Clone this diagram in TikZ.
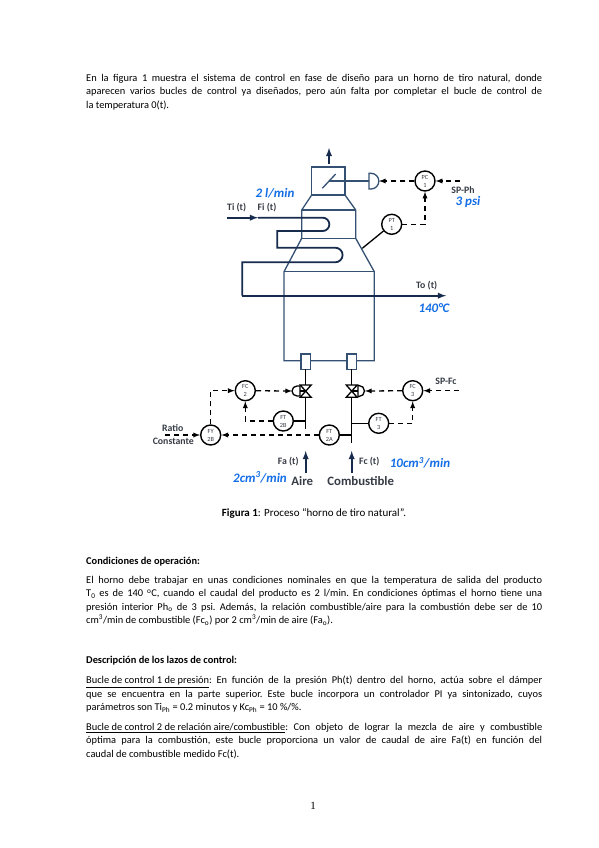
\documentclass[tikz,border=0pt]{standalone}
\usepackage{fontspec}
\setmainfont{Carlito}
\newfontfamily\pagefont{Liberation Serif}
\tikzset{
  para/.style={anchor=north west, inner sep=0pt, text width=456pt, align=justify, font=\frenchspacing\fontsize{10.4}{13.4}\selectfont},
  label/.style={inner sep=0pt, text=labelgray, font=\fontsize{9.8}{11}\selectfont\bfseries},
  hand/.style={inner sep=0pt, text=handblue, font=\fontsize{13}{14}\selectfont\bfseries\itshape},
  instr/.style={circle, draw=black, line width=1.4pt, fill=white, minimum size=20pt, inner sep=0pt, align=center, text=labelgray, font=\fontsize{6.3}{8}\selectfont},
  signal/.style={black, line width=1.3pt, dash pattern=on 5pt off 4pt, -latex},
  sensor/.style={black, line width=1.3pt},
  wall/.style={wallblue, line width=1.3pt},
  tube/.style={navy, line width=1.8pt}
}
\begin{document}
\begin{tikzpicture}[x=1pt, y=-1pt, line cap=butt, line join=miter]
  \definecolor{navy}{RGB}{23,43,77}
  \definecolor{wallblue}{RGB}{52,80,115}
  \definecolor{labelgray}{RGB}{55,60,70}
  \definecolor{handblue}{RGB}{20,110,230}
  \useasboundingbox (0,0) rectangle (599,848);
  \fill[white] (0,0) rectangle (599,848);
  % page text
  \node[para] (intro) at (86,74) {En la figura 1 muestra el sistema de control en fase de diseño para un horno de tiro natural, donde\linebreak aparecen varios bucles de control ya diseñados, pero aún falta por completar el bucle de control de\linebreak la temperatura 0(t).};
  \node[font=\fontsize{11}{12}\selectfont, inner sep=0pt] (caption) at (314,513.5) {\textbf{Figura 1}: Proceso “horno de tiro natural”.};
  \node[para] (headcond) at (86,556.5) {\textbf{Condiciones de operación:}};
  \node[para] (cond) at (86,576) {El horno debe trabajar en unas condiciones nominales en que la temperatura de salida del producto\linebreak T\textsubscript{0} es de 140 \textsuperscript{o}C, cuando el caudal del producto es 2 l/min. En condiciones óptimas el horno tiene una\linebreak presión interior Ph\textsubscript{o} de 3 psi. Además, la relación combustible/aire para la combustión debe ser de 10\linebreak cm\textsuperscript{3}/min de combustible (Fc\textsubscript{o}) por 2 cm\textsuperscript{3}/min de aire (Fa\textsubscript{o}).};
  \node[para] (headlazos) at (86,656) {\textbf{Descripción de los lazos de control:}};
  \node[para] (bucleuno) at (86,676) {\underline{Bucle de control 1 de presión}: En función de la presión Ph(t) dentro del horno, actúa sobre el dámper\linebreak que se encuentra en la parte superior. Este bucle incorpora un controlador PI ya sintonizado, cuyos\linebreak parámetros son Ti\textsubscript{Ph} = 0.2 minutos y  Kc\textsubscript{Ph} = 10 \%/\%.};
  \node[para] (bucledos) at (86,723) {\underline{Bucle de control 2 de relación aire/combustible}: Con objeto de lograr la mezcla de aire y combustible\linebreak óptima para la combustión, este bucle proporciona un valor de caudal de aire Fa(t) en función del\linebreak caudal de combustible medido Fc(t).};
  \node[font=\pagefont\fontsize{11}{12}\selectfont, inner sep=0pt] (pagenum) at (313,806) {1};
  % furnace
  \draw[wall] (311.7,167) rectangle (345,195);
  \draw[wall] (311.7,195)--(301.7,210)--(301.7,238.3)--(284,271.7)--(284,360.7)--(374.3,360.7)--(374.3,271.7)--(355.7,238.3)--(355.7,210)--(345,195);
  \draw[wall] (301.7,210)--(355.7,210);
  \draw[wall] (301.7,238.3)--(355.7,238.3);
  \draw[wall] (284,271.7)--(374.3,271.7);
  % coil
  \coordinate (coilin) at (227.3,217.7);
  \coordinate (coilout) at (446,295.7);
  \draw[tube, -latex] (coilin)--(258,217.7);
  \draw[tube] (258,217.7)--(322.7,217.7) arc (-90:90:6.65) -- (277.3,231)--(277.3,247.7)--(335.3,247.7) arc (-90:90:7.3) -- (242.3,262.3)--(242.3,295.7);
  \draw[tube, -latex] (242.3,295.7)--(coilout);
  % damper
  \coordinate (stack) at (329,164);
  \coordinate (exhaust) at (329,148);
  \draw[navy, line width=1.8pt, -latex] (stack)--(exhaust);
  \draw[wall] (322.3,188.3)--(335.7,174);
  \coordinate (dmpstem) at (329,181);
  \coordinate (dmpD) at (379,181);
  \draw[wall] (dmpstem)--(369,181);
  \draw[wall, fill=white] (369,173.3)--(371,173.3) arc (-90:90:7.85)--(369,189)--cycle;
  % burners and pipes
  \foreach \x in {305.7,351.7}{
    \draw[wall, fill=white] (\x-4.6,354)rectangle(\x+4.6,369.3);
    \draw[sensor, fill=white] (\x-5.5,385)--(\x+5.5,385)--(\x-5.5,397.3)--(\x+5.5,397.3)--cycle;
  }
  \coordinate (airtop) at (305.7,369.3);
  \coordinate (airend) at (305.7,429);
  \coordinate (fueltop) at (351.7,369.3);
  \coordinate (fuelend) at (351.7,442.7);
  \draw[sensor] (airtop)--(305.7,385) (305.7,397.3)--(airend);
  \draw[sensor] (fueltop)--(351.7,385) (351.7,397.3)--(fuelend);
  % valve actuators
  \coordinate (airD) at (292,391);
  \coordinate (fuelD) at (365,391);
  \draw[sensor] (300,391)--(305.7,391);
  \draw[sensor, fill=white] (300,386)--(297,386) arc (270:90:5)--(300,396)--cycle;
  \draw[sensor] (351.7,391)--(358,391);
  \draw[sensor, fill=white] (358,385.5)--(359,385.5) arc (-90:90:5.5)--(358,396.5)--cycle;
  % instruments
  \foreach \n/\x/\y/\tag/\num in {PC1/425/181/PC/1, PT1/391.7/224.3/PT/1, FC2/245.3/390.7/FC/2, FC3/412.7/390.7/FC/3, FT2B/283.3/421/FT/2B, FT3/378.7/423.3/FT/3, FT2A/329.3/435/FT/2A, FY2B/210.7/435/FY/2B}{
    \node[instr] (\n) at (\x,\y) {\tag\\\num};
  }
  \coordinate (wallPT) at (362.3,248.3);
  \coordinate (SPPh) at (460,181);
  \coordinate (SPFc) at (459,390.7);
  \coordinate (ratioin) at (165,435);
  \coordinate (teeFT2B) at (305.7,421);
  \coordinate (teeFT2A) at (351.7,435);
  \coordinate (teeFT3) at (351.7,423.3);
  \draw[sensor] (PT1)--(wallPT);
  \draw[sensor] (FT2B)--(teeFT2B);
  \draw[sensor] (FT2A)--(teeFT2A);
  \draw[sensor] (FT3)--(teeFT3);
  \draw[signal] (PC1)--(dmpD);
  \draw[signal] (SPPh)--(PC1);
  \draw[signal] (PT1)-|(PC1);
  \draw[signal] (FC2)--(airD);
  \draw[signal] (FC3)--(fuelD);
  \draw[signal] (SPFc)--(FC3);
  \draw[signal] (FT2B)-|(FC2);
  \draw[signal] (FT3)-|(FC3);
  \draw[signal] (FT2A)--(FY2B);
  \draw[signal] (FY2B)|-(FC2);
  \draw[signal] (ratioin)--(FY2B);
  % feeds
  \coordinate (airfoot) at (305.7,473);
  \coordinate (airhead) at (305.7,451);
  \coordinate (fuelfoot) at (351.7,473);
  \coordinate (fuelhead) at (351.7,451);
  \draw[navy, line width=1.8pt, -latex] (airfoot)--(airhead);
  \draw[navy, line width=1.8pt, -latex] (fuelfoot)--(fuelhead);
  % labels
  \foreach \n/\x/\y/\txt in {Ti/236.7/207.7/Ti (t), Fi/267/207.7/Fi (t), To/426.7/285.7/To (t), SPPhlab/463/190/SP-Ph, SPFclab/446/381.3/SP-Fc, ratio/172.7/428/Ratio, constante/173.3/441/Constante, Fa/288.3/461.3/Fa (t), Fc/369.3/461.3/Fc (t)}{
    \node[label] (\n) at (\x,\y) {\txt};
  }
  \node[label, font=\fontsize{12.8}{14}\selectfont\bfseries] (aire) at (302.3,480.7) {Aire};
  \node[label, font=\fontsize{12.8}{14}\selectfont\bfseries] (combustible) at (360.7,480.7) {Combustible};
  \foreach \n/\x/\y/\txt in {caudal/275/193.3/{2 l/min}, presion/468/202/{3 psi}, temp/434/307.7/{140°C}, airflow/260/477.3/{2cm\textsuperscript{3}/min}, fuelflow/420/462.7/{10cm\textsuperscript{3}/min}}{
    \node[hand] (\n) at (\x,\y) {\txt};
  }
\end{tikzpicture}
\end{document}
